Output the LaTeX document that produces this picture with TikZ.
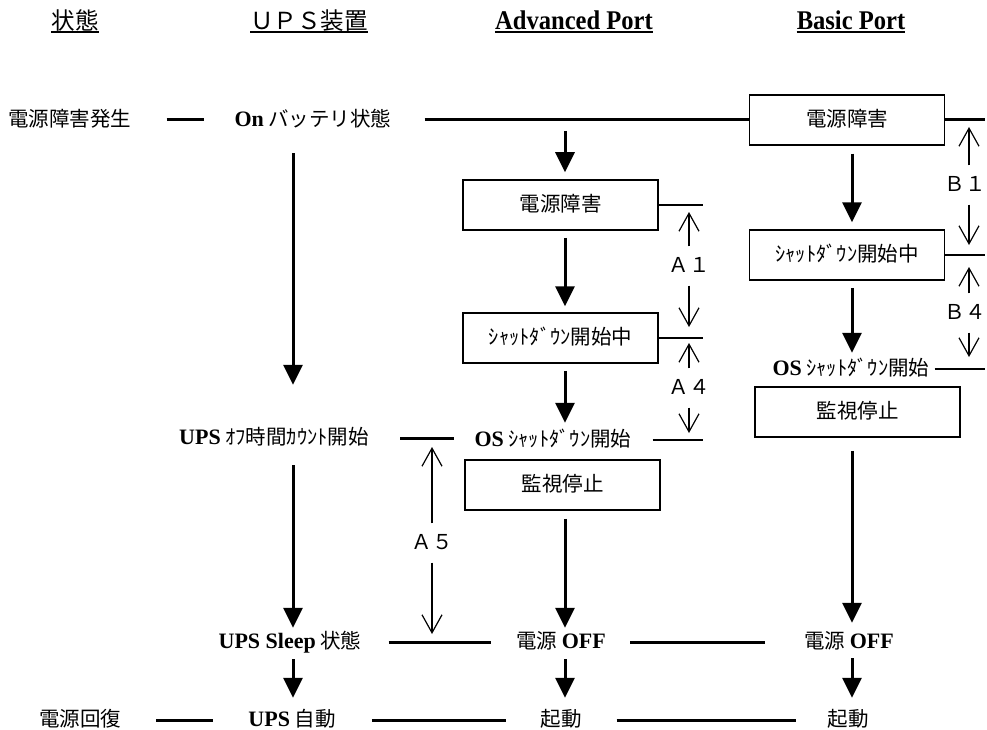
\documentclass[tikz,border=0pt]{standalone}
\usepackage{fontspec}
\setmainfont{Liberation Serif}
\newfontfamily\jpfont{Noto Sans CJK JP}
\newfontfamily\hdfont{Liberation Serif}[FakeStretch=0.91]
\usetikzlibrary{arrows.meta}
\newcommand{\latn}[1]{{\rmfamily\bfseries\fontsize{22}{24}\selectfont #1}}

\begin{document}
\begin{tikzpicture}[x=1pt, y=-1pt,
		txt/.style={inner sep=0pt, text height=16pt, text depth=3pt, font=\jpfont\fontsize{20.5}{24}\selectfont},
		box/.style={txt, draw, line width=1.5pt, minimum width=195pt, minimum height=50pt},
		hd/.style={inner sep=0pt, text height=17pt, text depth=2pt},
		flow/.style={line width=3pt, -{Triangle[length=20pt, width=19pt]}},
		link/.style={line width=3pt},
		tick/.style={line width=2.5pt},
		gap/.style={line width=1.2pt, -{Straight Barb[length=18pt, width=20pt]}, shorten <=10pt}]
			%%%%% START %%%%%
			\useasboundingbox (0, 0) rectangle (987, 730);
			
			% headings
			\node[hd, font=\jpfont\fontsize{23.5}{26}\selectfont] (hState) at (75, 22.5) {状態};
			\node[hd, font=\jpfont\fontsize{23.5}{26}\selectfont] (hUps) at (309, 22.5) {ＵＰＳ装置};
			\node[hd, font=\hdfont\bfseries\fontsize{27}{30}\selectfont] (hAdv) at (574, 22.5) {Advanced Port};
			\node[hd, font=\hdfont\bfseries\fontsize{27}{30}\selectfont] (hBas) at (851, 22.5) {Basic Port};
			\foreach \h in {hState, hUps, hAdv, hBas}
				\draw[line width=2pt] (\h.south west) -- (\h.south east);
			
			% columns
			\coordinate (colU) at (293, 0);
			\coordinate (colA) at (565, 0);
			\coordinate (colB) at (852, 0);
			
			% states
			\node[txt] (fail) at (70, 120) {電源障害発生};
			\node[txt] (onbat) at (313, 120) {\latn{On} バッテリ状態};
			\node[txt] (offcnt) at (274, 438) {\latn{UPS} ｵﾌ時間ｶｳﾝﾄ開始};
			\node[txt] (sleep) at (290, 642) {\latn{UPS Sleep} 状態};
			\node[txt] (recov) at (80, 720) {電源回復};
			\node[txt] (auto) at (292, 720) {\latn{UPS} 自動};
			
			% advanced port
			\node[box] (bA1) at (560.5, 205) {電源障害};
			\node[box] (bA2) at (560.5, 338) {ｼｬｯﾄﾀﾞｳﾝ開始中};
			\node[txt] (osA) at (553, 440) {\latn{OS} ｼｬｯﾄﾀﾞｳﾝ開始};
			\node[box] (bA3) at (562.5, 485) {監視停止};
			\node[txt] (offA) at (561, 642) {電源 \latn{OFF}};
			\node[txt] (bootA) at (561, 720) {起動};
			
			% basic port
			\node[box] (bR1) at (847, 120) {電源障害};
			\node[box] (bR2) at (847, 255) {ｼｬｯﾄﾀﾞｳﾝ開始中};
			\node[txt] (osB) at (851, 369) {\latn{OS} ｼｬｯﾄﾀﾞｳﾝ開始};
			\node[box, minimum width=205pt] (bR3) at (857.5, 412) {監視停止};
			\node[txt] (offB) at (849, 642) {電源 \latn{OFF}};
			\node[txt] (bootB) at (848, 720) {起動};
			
			% horizontal links
			\coordinate (splitA) at (565, 120);
			\coordinate (tR1) at (985, 120);
			\coordinate (tR2) at (985, 255);
			\coordinate (tOSB) at (985, 369);
			\coordinate (tA1) at (703, 205);
			\coordinate (tA2) at (703, 338);
			\coordinate (tOSA) at (703, 440);
			\coordinate (tOF) at (454, 438);
			
			\draw[link, shorten <=35pt, shorten >=30pt] (fail) -- (onbat);
			\draw[link, shorten <=33pt] (onbat) -- (bR1);
			\draw[link] (bR1) -- (tR1);
			\draw[tick] (bR2) -- (tR2);
			\draw[tick, shorten <=5pt] (osB) -- (tOSB);
			\draw[tick] (bA1) -- (tA1);
			\draw[tick] (bA2) -- (tA2);
			\draw[tick, shorten <=21pt] (osA) -- (tOSA);
			\draw[link, shorten <=31pt] (offcnt) -- (tOF);
			\draw[link, shorten <=27pt, shorten >=25pt] (sleep) -- (offA);
			\draw[link, shorten <=24pt, shorten >=39pt] (offA) -- (offB);
			\draw[link, shorten <=35pt, shorten >=35pt] (recov) -- (auto);
			\draw[link, shorten <=36pt, shorten >=34pt] (auto) -- (bootA);
			\draw[link, shorten <=35pt, shorten >=31pt] (bootA) -- (bootB);
			
			% flow arrows
			\draw[flow, shorten <=23.5pt, shorten >=43.5pt] (onbat.south -| colU) -- (offcnt.north -| colU);
			\draw[flow, shorten <=17.5pt, shorten >=4.5pt] (offcnt.south -| colU) -- (sleep.north -| colU);
			\draw[flow, shorten <=7.5pt, shorten >=12.5pt] (sleep.south -| colU) -- (auto.north -| colU);
			
			\draw[flow, shorten <=11pt, shorten >=7pt] (splitA) -- (bA1.north -| colA);
			\draw[flow, shorten <=7pt, shorten >=6pt] (bA1.south -| colA) -- (bA2.north -| colA);
			\draw[flow, shorten <=7pt, shorten >=7.5pt] (bA2.south -| colA) -- (osA.north -| colA);
			\draw[flow, shorten <=8pt, shorten >=4.5pt] (bA3.south -| colA) -- (offA.north -| colA);
			\draw[flow, shorten <=7.5pt, shorten >=12.5pt] (offA.south -| colA) -- (bootA.north -| colA);
			
			\draw[flow, shorten <=8pt, shorten >=7pt] (bR1.south -| colB) -- (bR2.north -| colB);
			\draw[flow, shorten <=7pt, shorten >=6.5pt] (bR2.south -| colB) -- (osB.north -| colB);
			\draw[flow, shorten <=13pt, shorten >=9.5pt] (bR3.south -| colB) -- (offB.north -| colB);
			\draw[flow, shorten <=6.5pt, shorten >=12.5pt] (offB.south -| colB) -- (bootB.north -| colB);
			
			% timing gaps
			\node[txt] (lA1) at (689, 266) {Ａ１};
			\node[txt] (lA4) at (689, 388) {Ａ４};
			\node[txt] (lA5) at (432, 543) {Ａ５};
			\node[txt] (lB1) at (965, 185) {Ｂ１};
			\node[txt] (lB4) at (965, 313) {Ｂ４};
			
			\coordinate (a1u) at (689, 212);
			\coordinate (a1d) at (689, 327);
			\coordinate (a4u) at (689, 343);
			\coordinate (a4d) at (689, 433);
			\coordinate (a5u) at (432, 447);
			\coordinate (a5d) at (432, 634);
			\coordinate (b1u) at (969, 127);
			\coordinate (b1d) at (969, 245);
			\coordinate (b4u) at (969, 267);
			\coordinate (b4d) at (969, 357);
			
			\draw[gap] (lA1) -- (a1u);
			\draw[gap] (lA1) -- (a1d);
			\draw[gap] (lA4) -- (a4u);
			\draw[gap] (lA4) -- (a4d);
			\draw[gap] (lA5) -- (a5u);
			\draw[gap] (lA5) -- (a5d);
			\draw[gap] (lB1.north -| b1u) -- (b1u);
			\draw[gap] (lB1.south -| b1d) -- (b1d);
			\draw[gap] (lB4.north -| b4u) -- (b4u);
			\draw[gap] (lB4.south -| b4d) -- (b4d);
			
			%%%%% END %%%%%
		\end{tikzpicture}
\end{document}
